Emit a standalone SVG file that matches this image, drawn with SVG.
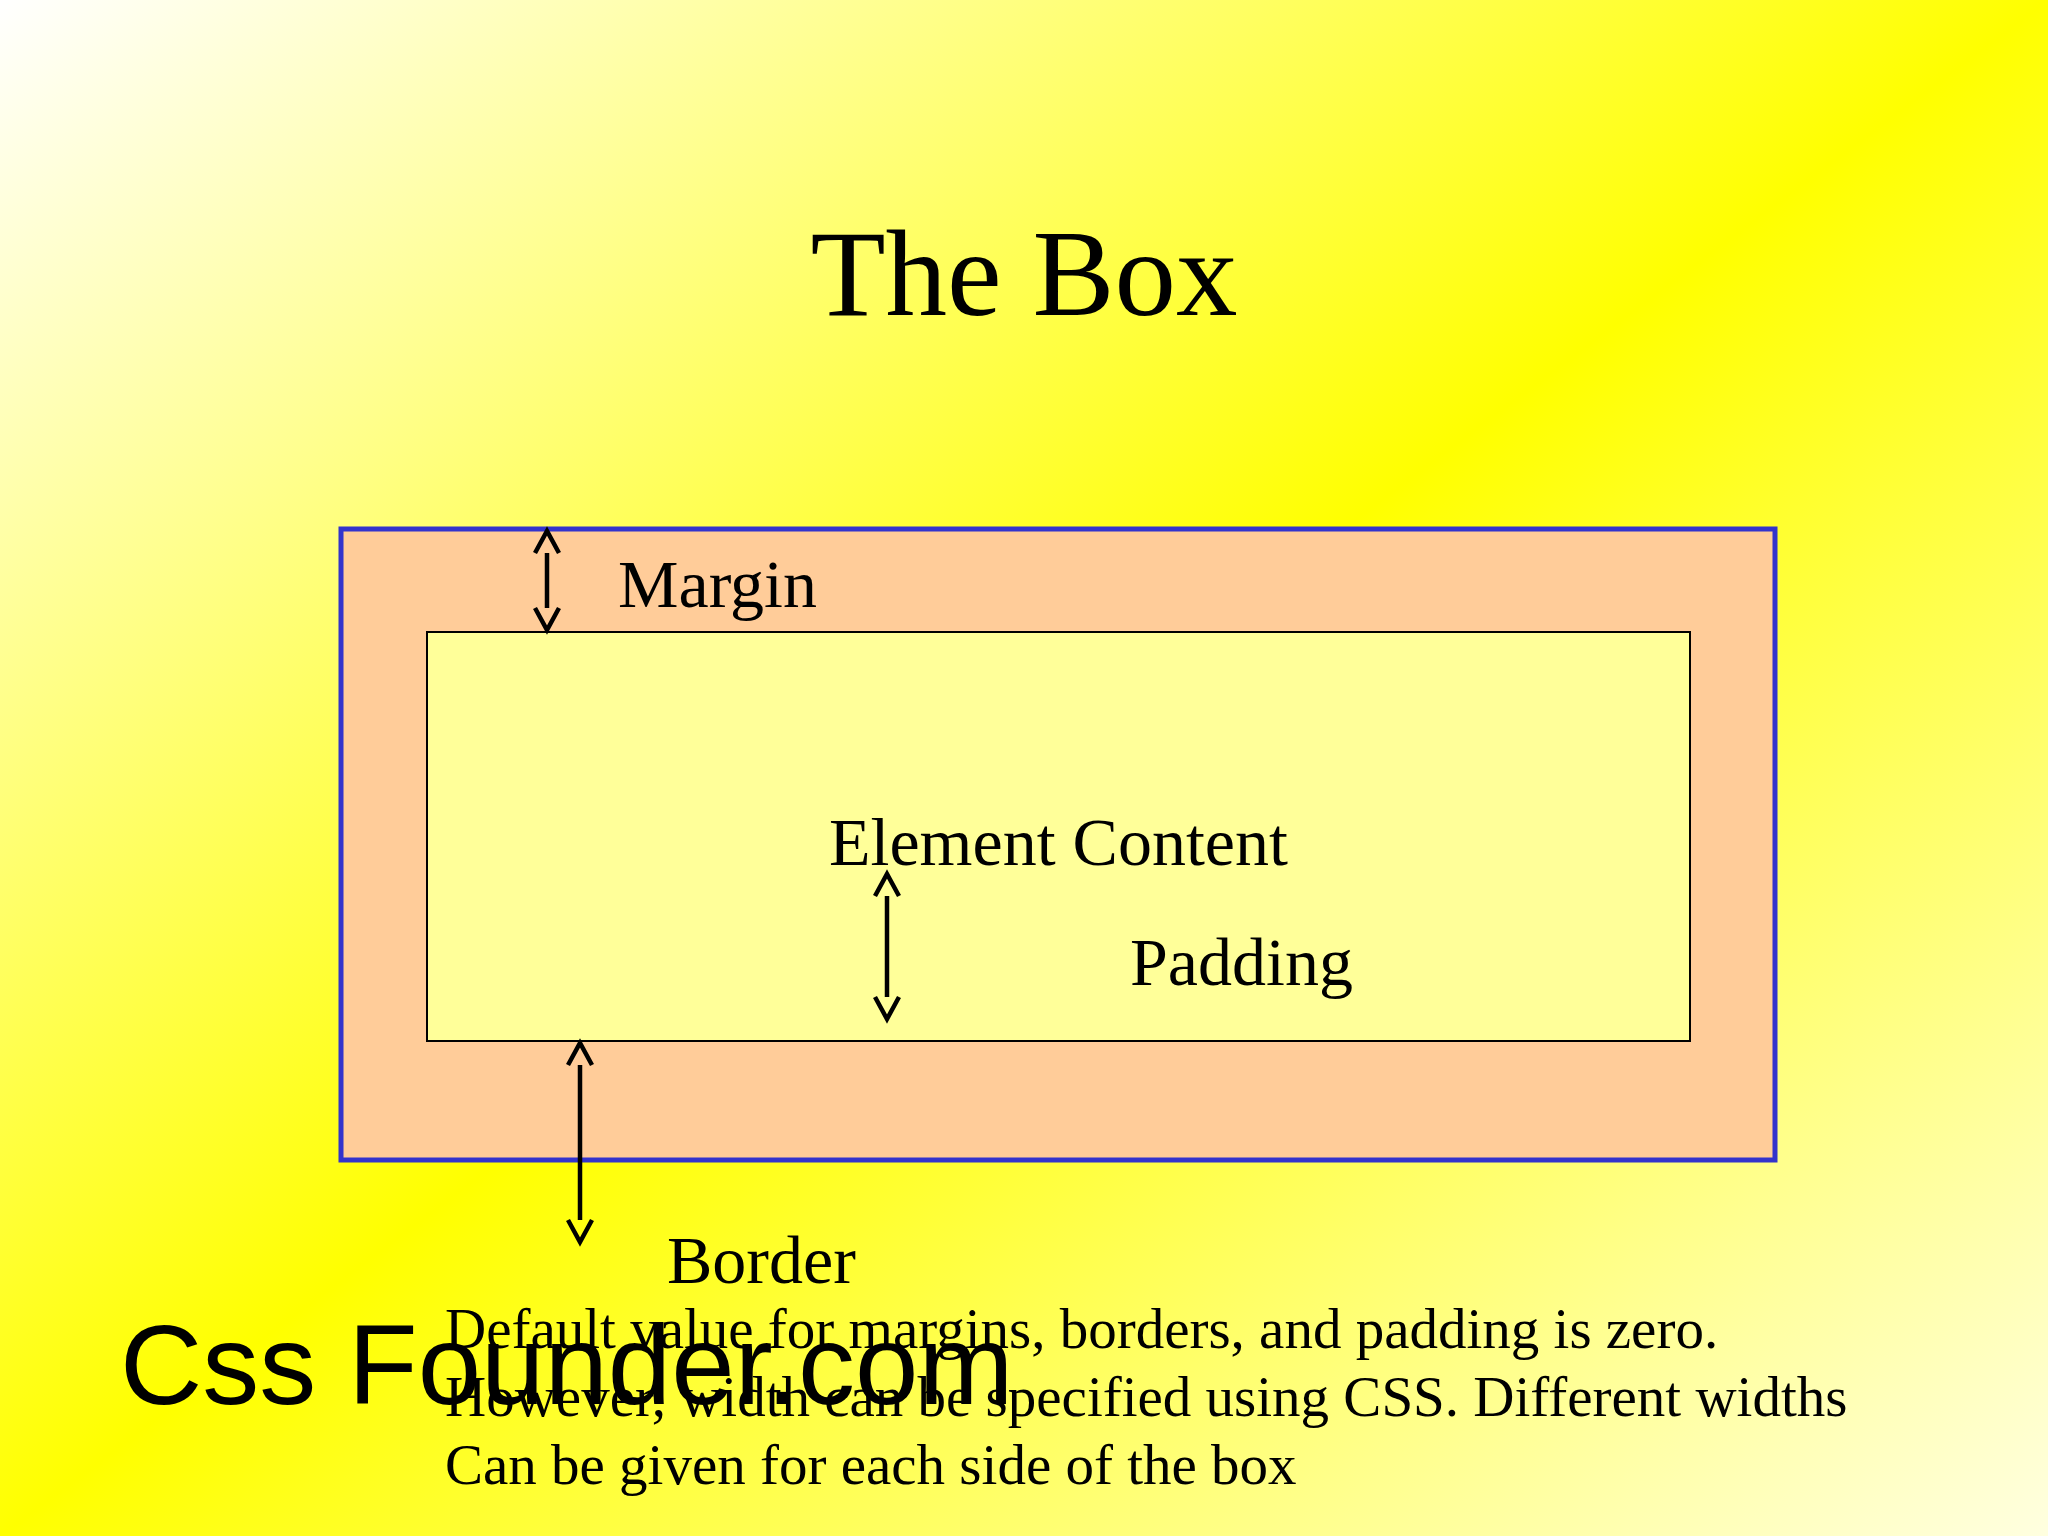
<svg xmlns="http://www.w3.org/2000/svg" width="2048" height="1536" viewBox="0 0 2048 1536">
  <defs>
    <linearGradient id="bg" x1="0" y1="0" x2="1" y2="1">
      <stop offset="0" stop-color="#FFFFFF"/>
      <stop offset="0.5" stop-color="#FFFF00"/>
      <stop offset="1" stop-color="#FFFFE0"/>
    </linearGradient>
    <marker id="chev" viewBox="-4 -16 32 32" markerWidth="32" markerHeight="32" refX="0" refY="0" markerUnits="userSpaceOnUse" orient="auto-start-reverse" overflow="visible">
      <path d="M0,-12 L22,0 L0,12" fill="none" stroke="#000" stroke-width="4.5"/>
    </marker>
    <style>
      .serif { font-family: "Liberation Serif", "Times New Roman", serif; fill: #000; }
      .lbl { font-size: 68px; }
      .body { font-size: 57px; }
      .arrow { stroke: #000; stroke-width: 4.5; fill: none; marker-start: url(#chev); marker-end: url(#chev); }
    </style>
  </defs>
  <rect x="0" y="0" width="2048" height="1536" fill="url(#bg)"/>
  <text class="serif" x="1024" y="315" font-size="123" text-anchor="middle">The Box</text>
  <g id="border-box">
    <rect x="341" y="529" width="1434" height="631" fill="#FFCC99" stroke="#3333CC" stroke-width="5"/>
  </g>
  <g id="content-box">
    <rect x="427" y="632" width="1263" height="409" fill="#FFFF99" stroke="#000" stroke-width="2"/>
  </g>
  <g id="labels">
    <text class="serif lbl" x="618" y="607">Margin</text>
    <text class="serif lbl" x="829" y="865">Element Content</text>
    <text class="serif lbl" x="1130" y="985">Padding</text>
    <text class="serif lbl" x="667" y="1283">Border</text>
  </g>
  <g id="connectors">
    <line class="arrow" x1="547" y1="553" x2="547" y2="608"/>
    <line class="arrow" x1="887" y1="896" x2="887" y2="997"/>
    <line class="arrow" x1="580" y1="1065" x2="580" y2="1220"/>
  </g>
  <g id="notes">
    <text class="serif body" x="445" y="1348">Default value for margins, borders, and padding is zero.</text>
    <text class="serif body" x="445" y="1416">However, width can be specified using CSS. Different widths</text>
    <text class="serif body" x="445" y="1484">Can be given for each side of the box</text>
  </g>
  <text x="120" y="1404" font-family="Liberation Sans, Arial, sans-serif" font-size="114" fill="#000">Css Founder.com</text>
</svg>
